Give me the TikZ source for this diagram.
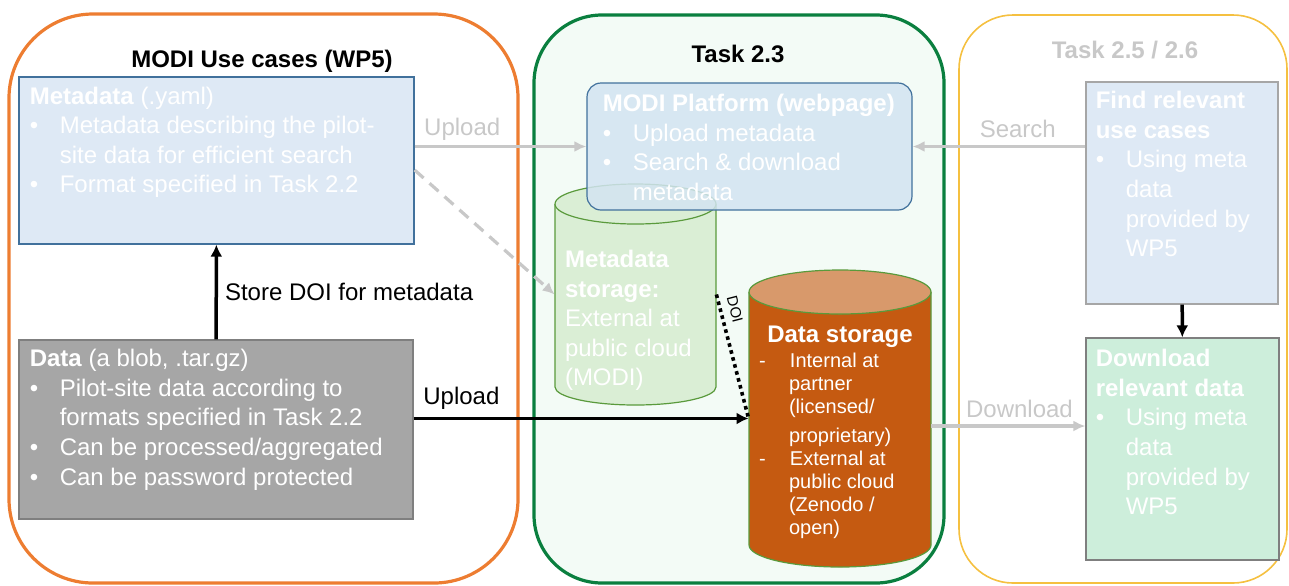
\documentclass[tikz,border=0pt]{standalone}
\usepackage{fontspec}
\setmainfont{Liberation Sans}
\usetikzlibrary{arrows.meta,positioning,fit}
\definecolor{modiorange}{HTML}{ED7D31}
\definecolor{modigreen}{HTML}{0A7F3F}
\definecolor{modimint}{HTML}{F3FBF6}
\definecolor{modiyellow}{HTML}{F5C040}
\definecolor{modiblue}{HTML}{DEE9F5}
\definecolor{modiblueline}{HTML}{41719C}
\definecolor{modiplatform}{HTML}{D3E4F2}
\definecolor{modigrey}{HTML}{C8C8C8}
\definecolor{modidatagrey}{HTML}{A6A6A6}
\definecolor{modidataline}{HTML}{7F7F7F}
\definecolor{modilightgreen}{HTML}{CDEEDB}
\definecolor{modistoregreen}{HTML}{DAEED5}
\definecolor{modistoreline}{HTML}{5A9A3C}
\definecolor{modirust}{HTML}{C55A11}
\definecolor{modirusttop}{HTML}{D8996B}
\newcommand{\modibullet}{\makebox[15pt][l]{\textbullet}}
\newcommand{\modidash}{\makebox[15.5pt][l]{-}}
\newcommand{\modiindent}{\hspace*{15pt}}
\tikzset{
  modiframe/.style={draw,line width=1.6pt,inner sep=0pt},
  modibox/.style={draw,line width=0.6pt,inner sep=0pt},
  modimeta/.style={modibox,draw=modiblueline,fill=modiblue},
  modidata/.style={modibox,draw=modidataline,fill=modidatagrey},
  modifind/.style={modibox,draw=modidatagrey,fill=modiblue},
  modidown/.style={modibox,draw=modidataline,fill=modilightgreen},
  modiplat/.style={modibox,draw=modiblueline,fill=modiplatform,
                   fill opacity=0.85,rounded corners=7pt},
  moditext/.style={font=\fontsize{12}{14.8}\selectfont,text=white,
                   align=left,anchor=north west,inner sep=0pt},
  modismall/.style={moditext,font=\fontsize{10}{11.6}\selectfont},
  modititle/.style={font=\bfseries\fontsize{12}{14.8}\selectfont,
                    anchor=base,inner sep=0pt},
  modilabel/.style={font=\fontsize{12}{14.8}\selectfont,inner sep=0pt},
  modiflow/.style={-{Latex[length=6pt,width=6pt]},line width=1.75pt},
  modigreyflow/.style={-{Latex[length=6pt,width=5.5pt]},line width=1.6pt,
                       modigrey},
  modidoi/.style={line width=1.8pt,dash pattern=on 1.8pt off 1.8pt}
}
\begin{document}
\begin{tikzpicture}[x=0.5pt,y=0.5pt]
  \useasboundingbox (0,0) rectangle (1289,-585);

  % work package frames
  \node[modiframe,draw=modiorange,rounded corners=42pt,
        fit={(9,-14) (518,-583)}] (usecases) {};
  \node[modiframe,draw=modigreen,fill=modimint,rounded corners=34pt,
        fit={(534,-15) (944,-583)}] (task23) {};
  \node[modiframe,draw=modiyellow,line width=0.8pt,rounded corners=27pt,
        fit={(959,-15) (1287,-583)}] (task25) {};

  \node[modititle] (usecasestitle) at (262,-67) {MODI Use cases (WP5)};
  \node[modititle] (task23title) at (738,-62) {Task 2.3};
  \node[modititle,text=modigrey] (task25title) at (1125,-58) {Task 2.5 / 2.6};

  % boxes
  \node[modimeta,fit={(19,-77) (414,-244)}] (meta) {};
  \node[modidata,fit={(19,-340) (413,-519)}] (data) {};
  \node[modifind,fit={(1086,-82) (1278,-304)}] (find) {};
  \node[modidown,fit={(1086,-338) (1279,-560)}] (down) {};

  % metadata storage cylinder
  \filldraw[fill=modistoregreen,draw=modistoreline,line width=0.6pt]
    (555,-204) -- (555,-387)
    arc[start angle=180,end angle=360,x radius=80.5,y radius=18] -- (716,-204);
  \filldraw[fill=modistoregreen,draw=modistoreline,line width=0.6pt]
    (635.5,-204) ellipse[x radius=80.5,y radius=20];
  \node[inner sep=0pt,fit={(555,-184) (716,-405)}] (mstore) {};

  % data storage cylinder
  \filldraw[fill=modirust,draw=modistoreline,line width=0.6pt]
    (749,-292) -- (749,-545)
    arc[start angle=180,end angle=360,x radius=91,y radius=22] -- (931,-292);
  \filldraw[fill=modirusttop,draw=modistoreline,line width=0.6pt]
    (840,-292) ellipse[x radius=91,y radius=22];
  \node[inner sep=0pt,fit={(749,-270) (931,-567)}] (dstore) {};

  \node[modiplat,fit={(587,-83) (912,-210)}] (plat) {};

  % texts
  \node[moditext] (metatxt) at ([shift={(11,-10)}]meta.north west)
    {\textbf{Metadata} (.yaml)\\
     \modibullet Metadata describing the pilot-\\
     \modiindent site data for efficient search\\
     \modibullet Format specified in Task 2.2};
  \node[moditext] (datatxt) at ([shift={(11,-9.5)}]data.north west)
    {\textbf{Data} (a blob, .tar.gz)\\
     \modibullet Pilot-site data according to\\
     \modiindent formats specified in Task 2.2\\
     \modibullet Can be processed/aggregated\\
     \modibullet Can be password protected};
  \node[moditext] (plattxt) at ([shift={(16,-11.5)}]plat.north west)
    {\textbf{MODI Platform (webpage)}\\
     \modibullet Upload metadata\\
     \modibullet Search \& download\\
     \modiindent metadata};
  \node[moditext] (mstoretxt) at ([shift={(10,-66)}]mstore.north west)
    {\textbf{Metadata}\\\textbf{storage:}\\External at\\public cloud\\(MODI)};
  \node[modititle,text=white] (dstoretitle) at ([shift={(0,-73)}]dstore.north)
    {Data storage};
  \node[modismall] (dstoretxt) at ([shift={(10,-83)}]dstore.north west)
    {\modidash Internal at\\
     \modiindent partner\\
     \modiindent (licensed/\\[2.5pt]
     \modiindent proprietary)\\
     \modidash External at\\
     \modiindent public cloud\\
     \modiindent (Zenodo /\\
     \modiindent open)};
  \node[moditext] (findtxt) at ([shift={(10,-9.5)}]find.north west)
    {\textbf{Find relevant}\\\textbf{use cases}\\
     \modibullet Using meta\\
     \modiindent data\\
     \modiindent provided by\\
     \modiindent WP5};
  \node[moditext] (downtxt) at ([shift={(10,-11.5)}]down.north west)
    {\textbf{Download}\\\textbf{relevant data}\\
     \modibullet Using meta\\
     \modiindent data\\
     \modiindent provided by\\
     \modiindent WP5};

  % connectors
  \draw[modigreyflow] (meta.east |- plat.west) -- (plat.west)
    node[modilabel,text=modigrey,pos=0,anchor=base west,xshift=4pt,yshift=5.5pt] {Upload};
  \draw[modigreyflow,dash pattern=on 6pt off 4pt]
    ([shift={(0,-9.5)}]meta.east) -- (mstore.west);
  \draw[modigreyflow] (find.west |- plat.east) -- (plat.east)
    node[modilabel,text=modigrey,pos=0,anchor=base east,xshift=-14pt,yshift=4.5pt] {Search};
  \coordinate (dlstart) at ([shift={(0,-7.5)}]dstore.east);
  \draw[modigreyflow] (dlstart) -- (dlstart -| down.west)
    node[modilabel,text=modigrey,pos=1,anchor=base east,xshift=-5.5pt,yshift=4.5pt] {Download};

  \draw[modiflow] (data) -- (meta)
    node[modilabel,pos=0.5,anchor=west,xshift=3.5pt] {Store DOI for metadata};
  \draw[modiflow] (data.east |- dstore.west) -- (dstore.west)
    node[modilabel,pos=0,anchor=base west,xshift=4pt,yshift=7pt] {Upload};
  \draw[modidoi] (mstore.east) -- (dstore.west)
    node[pos=0.15,sloped,above,inner sep=3.5pt,font=\fontsize{7.5}{9}\selectfont] {DOI};
  \draw[modiflow] (find) -- (down);
\end{tikzpicture}
\end{document}
